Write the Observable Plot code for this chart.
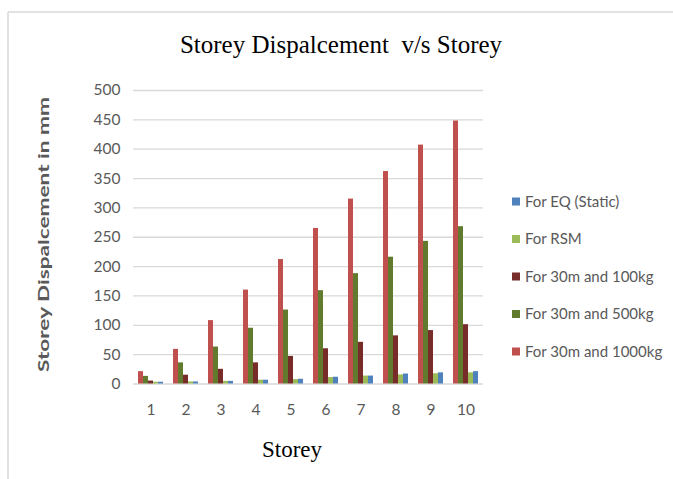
<!DOCTYPE html>
<html>
<head>
<meta charset="utf-8">
<script src="https://cdn.jsdelivr.net/npm/d3@7"></script>
<script src="https://cdn.jsdelivr.net/npm/@observablehq/plot@0.6"></script>
<style>
  html, body { margin: 0; padding: 0; background: #fff; }
  svg { display: block; }
</style>
</head>
<body>
<div id="chart"></div>
<script>
// ---- data ----
const storeys = [1, 2, 3, 4, 5, 6, 7, 8, 9, 10];
const storeySlots = [0, 1, 2, 3, 4, 5, 6, 7, 8, 9, 10]; // first slot is empty in the original
const for1000kg = [21, 59, 108, 160, 212, 265, 315, 362, 407, 448];
const for500kg  = [13, 36, 63, 95, 126, 159, 188, 216, 243, 268];
const for100kg  = [5, 15, 25, 36, 47, 60, 71, 82, 91, 101];
const forRSM    = [3, 3.5, 4.5, 6.5, 7.5, 11, 13.5, 15.5, 17.5, 19];
const forEQ     = [3, 3.5, 4.5, 6.5, 8, 11.5, 13.5, 17, 19, 21];
const barOrder = ["For 30m and 1000kg", "For 30m and 500kg", "For 30m and 100kg", "For RSM", "For EQ (Static)"];
const barColors = ["#C0504D", "#617A2E", "#772C2A", "#9BBB59", "#4F81BD"];
const legendOrder = ["For EQ (Static)", "For RSM", "For 30m and 100kg", "For 30m and 500kg", "For 30m and 1000kg"];
const yTicks = [0, 50, 100, 150, 200, 250, 300, 350, 400, 450, 500];
const titleText = "Storey Dispalcement  v/s Storey";
const xTitle = "Storey";
const yTitle = "Storey Dispalcement in mm";

const seriesValues = [for1000kg, for500kg, for100kg, forRSM, forEQ];
const table = [];
barOrder.forEach((name, i) => {
  storeys.forEach((s, j) => table.push({storey: s, series: name, value: seriesValues[i][j]}));
});

const chart = Plot.plot({
  width: 673,
  height: 479,
  marginLeft: 98,
  marginRight: 190,
  marginTop: 90,
  marginBottom: 95.5,
  style: {fontFamily: "Lato, 'Liberation Sans', sans-serif", fontSize: "15.5px", color: "#595959", background: "#fff"},
  facet: {data: table, x: "storey"},
  fx: {domain: storeySlots, paddingInner: 0, paddingOuter: 0, label: null, tickSize: 0, tickPadding: 20,
       tickFormat: d => d === 0 ? "" : String(d)},
  x: {domain: barOrder, paddingInner: 0, paddingOuter: 0.74, axis: null},
  y: {domain: [0, 500], ticks: yTicks, tickSize: 0, tickPadding: 13, label: null},
  color: {domain: barOrder, range: barColors},
  marks: [
    Plot.ruleY(yTicks, {stroke: "#D9D9D9", strokeWidth: 1.3}),
    Plot.barY(table, {x: "series", y: "value", fill: "series", inset: 0})
  ]
});
document.getElementById("chart").appendChild(chart);

const svg = d3.select(chart);
// outer chart border (top & left visible in the reference)
svg.append("line").attr("x1", 8).attr("x2", 673).attr("y1", 12).attr("y2", 12)
  .attr("stroke", "#D9D9D9").attr("stroke-width", 1.5);
svg.append("line").attr("x1", 8).attr("x2", 8).attr("y1", 12).attr("y2", 479)
  .attr("stroke", "#D9D9D9").attr("stroke-width", 1.5);

svg.append("text").text(titleText)
  .attr("x", 341).attr("y", 53).attr("text-anchor", "middle")
  .style("white-space", "pre")
  .attr("font-family", "'Liberation Serif', 'Times New Roman', serif").attr("font-size", 25).attr("fill", "#000");

svg.append("text").text(xTitle)
  .attr("x", 292).attr("y", 457).attr("text-anchor", "middle")
  .attr("font-family", "'Liberation Serif', 'Times New Roman', serif").attr("font-size", 23).attr("fill", "#000");

svg.append("text").text(yTitle)
  .attr("transform", "translate(43,234.5) rotate(-90)")
  .attr("text-anchor", "middle").attr("dy", "0.35em")
  .attr("textLength", 275).attr("lengthAdjust", "spacingAndGlyphs")
  .attr("font-family", "Lato, 'Liberation Sans', sans-serif").attr("font-weight", "bold")
  .attr("font-size", 16).attr("fill", "#595959");

const legendY = [201.5, 239, 276.5, 314, 351.5];
const lg = svg.append("g").attr("text-anchor", "start");
legendOrder.forEach((name, i) => {
  lg.append("rect").attr("x", 512).attr("y", legendY[i] - 4).attr("width", 8).attr("height", 8)
    .attr("fill", barColors[barOrder.indexOf(name)]);
  lg.append("text").text(name).attr("x", 525).attr("y", legendY[i]).attr("dy", "0.35em")
    .attr("text-anchor", "start")
    .attr("font-family", "Lato, 'Liberation Sans', sans-serif").attr("font-size", 15).attr("fill", "#595959");
});
</script>
</body>
</html>
